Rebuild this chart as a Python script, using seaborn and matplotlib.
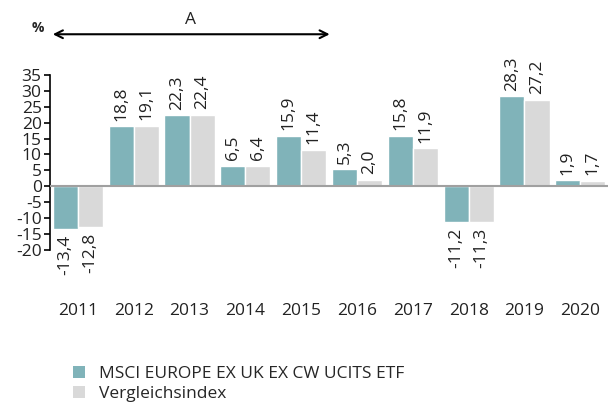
import pandas as pd
import seaborn as sns
import matplotlib.pyplot as plt
from matplotlib.patches import Patch

years = ['2011', '2012', '2013', '2014', '2015', '2016', '2017', '2018', '2019', '2020']
fund = [-13.4, 18.8, 22.3, 6.5, 15.9, 5.3, 15.8, -11.2, 28.3, 1.9]
index = [-12.8, 19.1, 22.4, 6.4, 11.4, 2.0, 11.9, -11.3, 27.2, 1.7]
series_names = ['MSCI EUROPE EX UK EX CW UCITS ETF', 'Vergleichsindex']
colors = ['#80b3b9', '#d9d9d9']

df = pd.DataFrame({
    'Jahr': years * 2,
    'Wert': fund + index,
    'Serie': [series_names[0]] * len(years) + [series_names[1]] * len(years),
})

sns.set_theme(style='white')
plt.rcParams['font.family'] = ['Open Sans', 'DejaVu Sans']
plt.rcParams['axes.unicode_minus'] = False

FS = 12.5

fig = plt.figure(figsize=(6.1, 4.03), dpi=100)
ax = fig.add_axes([0.082, 0.38, 0.915, 0.434])

sns.barplot(data=df, x='Jahr', y='Wert', hue='Serie', palette=colors,
            width=0.9, ax=ax, legend=False, saturation=1)

ax.set_ylim(-20, 35)
ax.set_xlim(-0.5, len(years) - 0.5)
ax.set_yticks(range(-20, 36, 5))
ax.tick_params(axis='y', labelsize=FS, length=4, width=1.2, color='black',
               direction='out', left=True, pad=2)
ax.tick_params(axis='x', labelsize=FS, length=0, pad=38)
for lbl in ax.get_yticklabels():
    lbl.set_color('#222222')
for lbl in ax.get_xticklabels():
    lbl.set_color('#222222')
ax.set_xlabel('')
ax.set_ylabel('')
for side in ['top', 'right', 'bottom']:
    ax.spines[side].set_visible(False)
ax.spines['left'].set_color('black')
ax.spines['left'].set_linewidth(1.2)
ax.axhline(0, color='#a0a0a0', lw=1.5, zorder=3)

for container in ax.containers:
    for bar in container:
        h = bar.get_height()
        x = bar.get_x() + bar.get_width() / 2
        txt = f'{h:.1f}'.replace('.', ',')
        if h >= 0:
            ax.annotate(txt, (x, h), xytext=(0, 4), textcoords='offset points',
                        rotation=90, ha='center', va='bottom', fontsize=FS,
                        color='#222222')
        else:
            ax.annotate(txt, (x, h), xytext=(0, -4), textcoords='offset points',
                        rotation=90, ha='center', va='top', fontsize=FS,
                        color='#222222')

# period arrow
fig.text(0.062, 0.93, '%', fontsize=10, fontweight='bold', ha='center', va='center')
ax.annotate('', xy=(0.082, 0.915), xytext=(0.545, 0.915), xycoords='figure fraction',
            arrowprops=dict(arrowstyle='<->', color='black', lw=1.5,
                            mutation_scale=14))
fig.text(0.312, 0.95, 'A', fontsize=FS, ha='center', va='center', color='#222222')

handles = [Patch(facecolor=c, edgecolor='none') for c in colors]
fig.legend(handles, series_names, loc='lower left', bbox_to_anchor=(0.108, -0.015),
           frameon=False, fontsize=FS, handlelength=0.7, handleheight=0.7,
           handletextpad=0.8, labelspacing=0.2, borderaxespad=0)

fig.savefig('out.png', dpi=100)
